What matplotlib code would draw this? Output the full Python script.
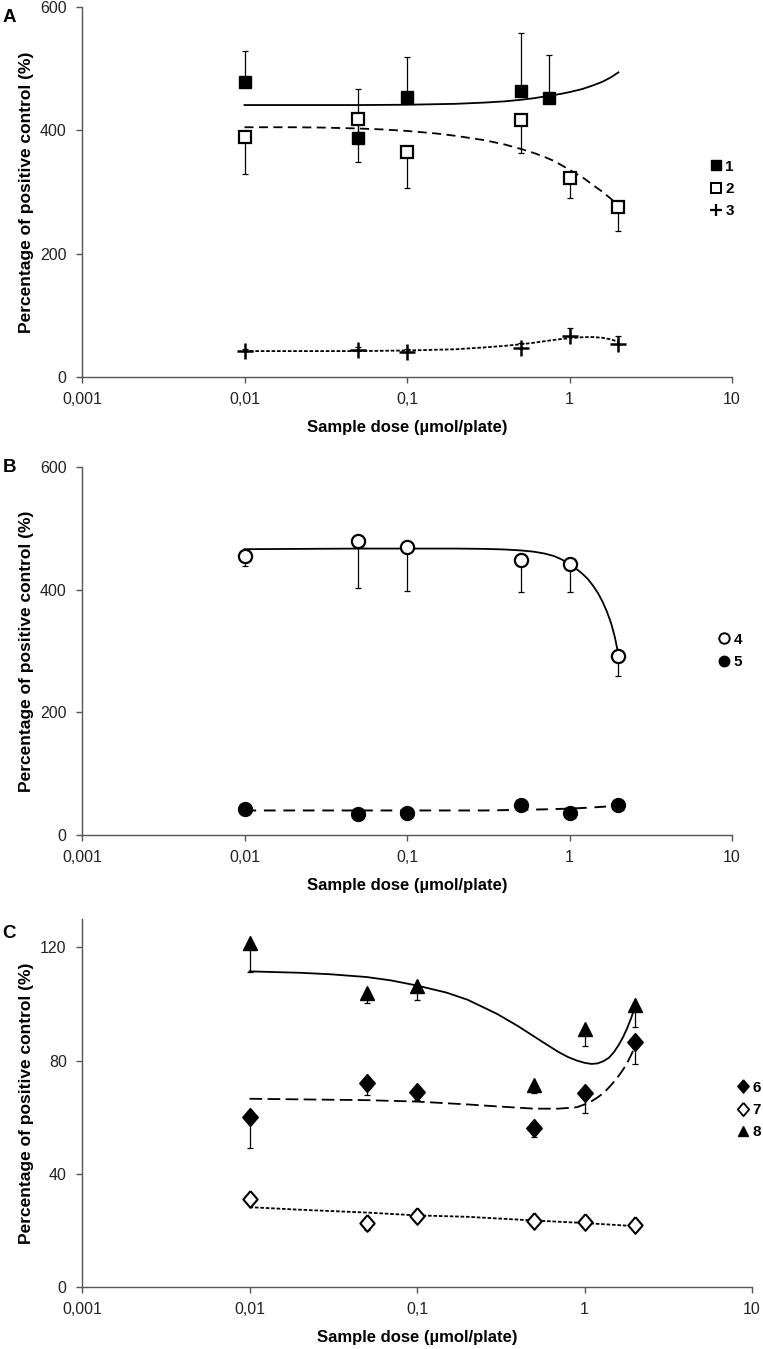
import matplotlib
matplotlib.use("Agg")
import matplotlib.pyplot as plt
from matplotlib.lines import Line2D
from matplotlib.ticker import NullLocator

plt.rcParams['font.family'] = ['Liberation Sans', 'DejaVu Sans']

# ---------------- data ----------------
x_ticks = [0.001, 0.01, 0.1, 1, 10]
x_tick_labels = ['0,001', '0,01', '0,1', '1', '10']
doses = [0.01, 0.05, 0.1, 0.5, 1, 2]

# Panel A
doses_A1 = [0.01, 0.05, 0.1, 0.5, 0.75]
A1 = [479, 388, 454, 464, 452]
A1_err_up = [50, 79, 65, 94, 70]
A2 = [390, 419, 365, 417, 322, 275]
A2_err_down = [61, 70, 58, 53, 31, 38]
A3 = [42, 44, 41, 47, 67, 53]
A3_err_up = [4, 5, 5, 8, 12, 13]
fitA1_x = [0.01, 0.02, 0.05, 0.1, 0.2, 0.3, 0.4, 0.5, 0.6, 0.75, 0.9, 1.0,
           1.2, 1.4, 1.6, 1.8, 2.0]
fitA1 = [441, 441, 441, 441.5, 443, 445, 447, 449.5, 452, 456, 459.5, 462,
         467, 473, 479, 486, 494]
fitA2_x = [0.01, 0.02, 0.03, 0.05, 0.07, 0.1, 0.15, 0.2, 0.3, 0.4, 0.5, 0.6,
           0.7, 0.8, 0.9, 1.0, 1.2, 1.4, 1.6, 1.8, 2.0]
fitA2 = [405, 405, 404.5, 403, 401.5, 399, 395, 391, 384, 377, 370, 363.5,
         357, 350.5, 343, 336, 324, 311, 300, 289, 278]
fitA3_x = [0.01, 0.05, 0.1, 0.2, 0.3, 0.4, 0.5, 0.6, 0.7, 0.85, 1.0, 1.2,
           1.4, 1.6, 1.8, 2.0]
fitA3 = [42, 42, 43, 45, 48, 50.5, 53, 55.5, 58, 61, 63, 64.5,
         64.8, 63.5, 61, 57]
yticks_AB = [0, 200, 400, 600]

# Panel B
B4 = [455, 480, 469, 449, 442, 292]
B4_err_down = [16, 78, 71, 53, 46, 32]
B5 = [42, 35, 36, 49, 36, 49]
fitB4_x = [0.01, 0.05, 0.1, 0.2, 0.3, 0.4, 0.5, 0.6, 0.7, 0.8, 0.9, 1.0,
           1.1, 1.2, 1.3, 1.4, 1.5, 1.6, 1.7, 1.8, 1.9, 2.0]
fitB4 = [466, 467, 467, 467, 466.5, 465.5, 464, 462, 459, 455, 449, 441,
         434, 426, 417, 406, 394, 380, 364, 346, 323, 294]
fitB5_x = [0.01, 0.1, 0.3, 0.5, 0.7, 1.0, 1.3, 1.6, 2.0]
fitB5 = [40, 40, 40, 41, 41.8, 43, 44.5, 46, 48]

# Panel C
C6 = [60, 72, 69, 56, 68.6, 86.7]
C6_err_down = [11, 4.3, 3, 3, 7, 8]
C7 = [31, 22.7, 25.1, 23.3, 22.8, 21.9]
C7_err_down = [1.5, 2.5, 1, 1, 1, 0.5]
C8 = [121.4, 104, 106.4, 71.4, 91.2, 99.5]
C8_err_down = [10, 3.5, 5, 3, 6, 7.5]
fitC8_x = [0.01, 0.02, 0.03, 0.05, 0.07, 0.1, 0.15, 0.2, 0.3, 0.4, 0.5, 0.6,
           0.7, 0.8, 0.9, 1.0, 1.1, 1.2, 1.3, 1.4, 1.5, 1.6, 1.7, 1.8, 1.9, 2.0]
fitC8 = [111.5, 111, 110.5, 109.5, 108.3, 106.5, 104, 101.5, 96.5, 92.2, 88.5,
         85.5, 83, 81.2, 80, 79.2, 78.8, 79, 79.8, 81, 83, 85.5, 88.3, 91.5,
         95, 99]
fitC6_x = [0.01, 0.05, 0.1, 0.2, 0.3, 0.5, 0.7, 0.9, 1.0, 1.1, 1.2, 1.3, 1.4,
           1.5, 1.6, 1.7, 1.8, 1.9, 2.0]
fitC6 = [66.5, 66, 65.5, 64.5, 63.8, 63, 63, 63.5, 64.5, 65.6, 67, 68.6, 70.5,
         72.5, 74.6, 76.8, 79.2, 82, 85]
fitC7_x = [0.01, 0.02, 0.05, 0.1, 0.2, 0.5, 1, 2]
fitC7 = [28.2, 27.3, 26.3, 25.3, 24.8, 23.5, 22.6, 21.5]
yticks_C = [0, 40, 80, 120]

xlabel = 'Sample dose (µmol/plate)'
ylabel = 'Percentage of positive control (%)'

# ---------------- figure ----------------
W, H = 763, 1349
fig = plt.figure(figsize=(W / 100, H / 100), dpi=100)


def fax(l, t, r, b):
    return fig.add_axes([l / W, 1 - b / H, (r - l) / W, (b - t) / H])


SP = '#555555'


def style(ax, ylim, yt):
    ax.set_xscale('log')
    ax.set_xlim(0.001, 10)
    ax.set_ylim(*ylim)
    ax.set_xticks(x_ticks)
    ax.set_xticklabels(x_tick_labels)
    ax.xaxis.set_minor_locator(NullLocator())
    ax.set_yticks(yt)
    for s in ['top', 'right']:
        ax.spines[s].set_visible(False)
    for s in ['left', 'bottom']:
        ax.spines[s].set_color(SP)
        ax.spines[s].set_linewidth(1.0)
    ax.tick_params(direction='out', length=4, width=1, color=SP,
                   labelsize=11.5, labelcolor='#222222', pad=7)
    ax.set_xlabel(xlabel, fontsize=12, fontweight='bold')
    ax.set_ylabel(ylabel, fontsize=12.5, fontweight='bold')
    hpx = ax.get_position().height * H
    wpx = ax.get_position().width * W
    ax.xaxis.set_label_coords(0.5, -43 / hpx)
    ax.yaxis.set_label_coords(-48 / wpx, 0.5)


ekw = dict(ecolor='black', elinewidth=0.9, capsize=2.5, capthick=0.9, ls='none')
diamond = [(0, 1), (0.86, 0), (0, -1), (-0.86, 0), (0, 1)]

# Panel A
axA = fax(82, 7, 732, 377)
style(axA, (0, 600), yticks_AB)
axA.plot(fitA1_x, fitA1, color='black', lw=1.3, ls='-')
axA.plot(fitA2_x, fitA2, color='black', lw=1.3, ls=(0, (5, 3)))
axA.plot(fitA3_x, fitA3, color='black', lw=1.3, ls=(0, (2, 1)))
axA.errorbar(doses_A1, A1, yerr=[[0] * len(A1), A1_err_up], **ekw)
axA.errorbar(doses, A2, yerr=[A2_err_down, [0] * len(A2)], **ekw)
axA.errorbar(doses, A3, yerr=[[0] * len(A3), A3_err_up], **ekw)
axA.plot(doses_A1, A1, 's', ms=9, mfc='black', mec='black', zorder=5)
axA.plot(doses, A2, 's', ms=9, mfc='white', mec='black', mew=1.6, zorder=5)
axA.plot(doses, A3, '+', ms=11, mec='black', mew=1.8, zorder=5)
hA = [Line2D([], [], marker='s', ls='none', ms=7.5, mfc='black', mec='black'),
      Line2D([], [], marker='s', ls='none', ms=7.5, mfc='white', mec='black', mew=1.4),
      Line2D([], [], marker='+', ls='none', ms=8.5, mec='black', mew=1.6)]

# Panel B
axB = fax(82, 467, 732, 835)
style(axB, (0, 600), yticks_AB)
axB.plot(fitB4_x, fitB4, color='black', lw=1.3, ls='-')
axB.plot(fitB5_x, fitB5, color='black', lw=1.4, ls=(0, (6, 4)))
axB.errorbar(doses, B4, yerr=[B4_err_down, [0] * len(B4)], **ekw)
axB.plot(doses, B4, 'o', ms=9.5, mfc='white', mec='black', mew=1.6, zorder=5)
axB.plot(doses, B5, 'o', ms=10, mfc='black', mec='black', zorder=5)
hB = [Line2D([], [], marker='o', ls='none', ms=7.5, mfc='white', mec='black', mew=1.4),
      Line2D([], [], marker='o', ls='none', ms=7.5, mfc='black', mec='black')]

# Panel C
axC = fax(82, 919, 752, 1287)
style(axC, (0, 130), yticks_C)
axC.plot(fitC8_x, fitC8, color='black', lw=1.3, ls='-')
axC.plot(fitC6_x, fitC6, color='black', lw=1.3, ls=(0, (7, 3)))
axC.plot(fitC7_x, fitC7, color='black', lw=1.3, ls=(0, (2, 1)))
axC.errorbar(doses, C8, yerr=[C8_err_down, [0] * len(C8)], **ekw)
axC.errorbar(doses, C6, yerr=[C6_err_down, [0] * len(C6)], **ekw)
axC.errorbar(doses, C7, yerr=[C7_err_down, [0] * len(C7)], **ekw)
axC.plot(doses, C8, '^', ms=10, mfc='black', mec='black', zorder=5)
axC.plot(doses, C6, marker=diamond, ls='none', ms=13, mfc='black', mec='black', zorder=5)
axC.plot(doses, C7, marker=diamond, ls='none', ms=12, mfc='white', mec='black',
         mew=1.5, zorder=5)
hC = [Line2D([], [], marker=diamond, ls='none', ms=9.5, mfc='black', mec='black'),
      Line2D([], [], marker=diamond, ls='none', ms=9.5, mfc='white', mec='black', mew=1.3),
      Line2D([], [], marker='^', ls='none', ms=7.5, mfc='black', mec='black')]

lkw = dict(loc='center left', frameon=False, handlelength=0.8, handletextpad=0.2,
           labelspacing=0.55, borderpad=0, borderaxespad=0,
           prop={'weight': 'bold', 'size': 11}, bbox_transform=fig.transFigure)
axA.legend(hA, ['1', '2', '3'], bbox_to_anchor=(710 / W, 1 - 189 / H), **lkw)
axB.legend(hB, ['4', '5'], bbox_to_anchor=(718 / W, 1 - 651 / H), **lkw)
axC.legend(hC, ['6', '7', '8'], bbox_to_anchor=(737 / W, 1 - 1110 / H), **lkw)

for letter, y in [('A', 17), ('B', 467), ('C', 933)]:
    fig.text(9 / W, 1 - y / H, letter, fontsize=13.5, fontweight='bold',
             ha='center', va='center')

fig.savefig('out.png', dpi=100)
